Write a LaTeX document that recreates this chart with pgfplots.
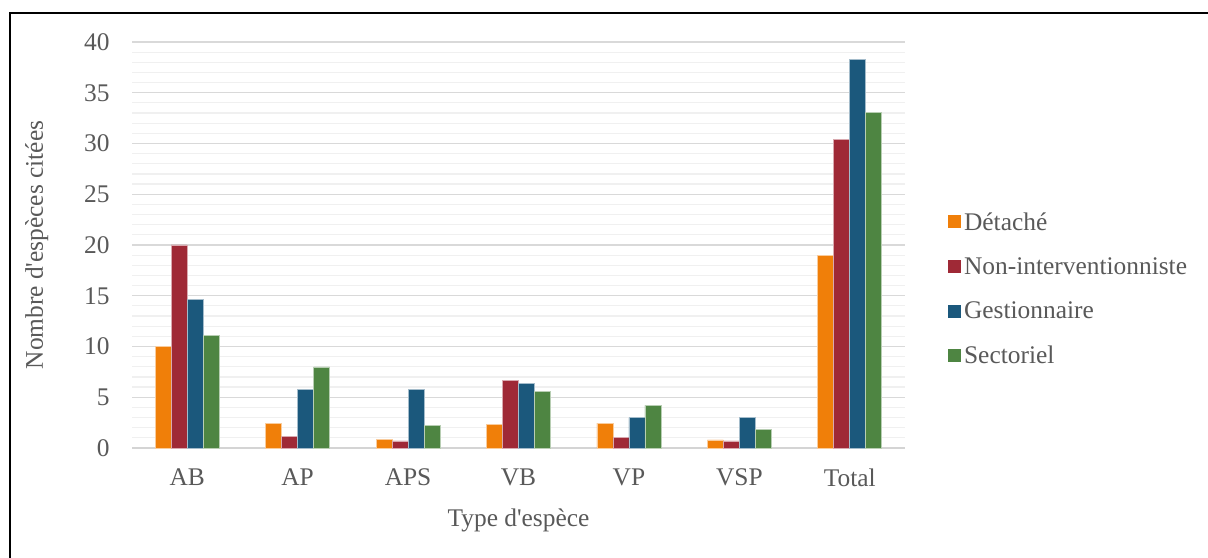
\documentclass[border=0pt]{standalone}
\usepackage{pgfplots}
\pgfplotsset{compat=1.18}
\usepackage{fontspec}
\setmainfont{Liberation Serif}[Ligatures=TeXOff]
\definecolor{cO}{HTML}{F07F09}
\definecolor{cR}{HTML}{9F2936}
\definecolor{cB}{HTML}{1B587C}
\definecolor{cG}{HTML}{4E8542}
\definecolor{txt}{HTML}{595959}
\begin{document}
\begin{tikzpicture}[x=1bp,y=1bp]
\useasboundingbox (0,0) rectangle (1208,558);
\fill[white] (0,0) rectangle (1208,558);
\draw[line width=2bp] (10,-5) -- (10,545) -- (1215,545);
\begin{axis}[
  at={(132bp,110bp)}, anchor=south west,
  scale only axis, width=773bp, height=406bp,
  ybar=0pt, bar width=16bp,
  xmin=-0.5, xmax=6.5, ymin=0, ymax=40,
  xtick={0,...,6},
  xticklabels={AB,AP,APS,VB,VP,VSP,Total},
  ytick={0,5,...,40},
  minor y tick num=4,
  ymajorgrids, yminorgrids,
  major grid style={draw=black!15, line width=1.2bp},
  minor grid style={draw=black!6, line width=1.2bp},
  major tick length=0pt, minor tick length=0pt,
  axis line style={draw=none},
  axis x line*=bottom, axis y line*=left,
  /pgf/number format/assume math mode=true,
  font=\fontsize{25.5}{30}\selectfont,
  tick label style={text=txt},
  xticklabel style={yshift=-17bp},
  yticklabel style={xshift=-19bp},
  label style={text=txt},
  xlabel={Type d'espèce},
  ylabel={Nombre d'espèces citées},
  xlabel style={yshift=-16bp},
  ylabel style={yshift=29bp},
  legend image code/.code={\fill[#1,draw=none] (0bp,-6.5bp) rectangle (13bp,6.5bp);},
  legend style={at={(1.0555,0.392)}, anchor=west, draw=none, fill=none,
    inner sep=0pt, row sep=22bp, text=txt, font=\fontsize{25.5}{30}\selectfont,
    nodes={inner xsep=3bp}},
  legend cell align=left,
  clip=false,
]
\draw[draw=black!17, line width=2bp] (axis cs:-0.5,0) -- (axis cs:6.5,0);
\addplot[fill=cO, draw=white!60!cO, line width=0.6bp] coordinates {(0,10) (1,2.4) (2,0.85) (3,2.36) (4,2.46) (5,0.79) (6,18.95)};
\addplot[fill=cR, draw=white!60!cR, line width=0.6bp] coordinates {(0,20) (1,1.18) (2,0.69) (3,6.67) (4,1.05) (5,0.69) (6,30.4)};
\addplot[fill=cB, draw=white!60!cB, line width=0.6bp] coordinates {(0,14.65) (1,5.8) (2,5.8) (3,6.4) (4,2.98) (5,2.98) (6,38.26)};
\addplot[fill=cG, draw=white!60!cG, line width=0.6bp] coordinates {(0,11.07) (1,7.98) (2,2.23) (3,5.58) (4,4.2) (5,1.84) (6,33.07)};
\legend{Détaché,Non-interventionniste,Gestionnaire,Sectoriel}
\end{axis}
\end{tikzpicture}
\end{document}
